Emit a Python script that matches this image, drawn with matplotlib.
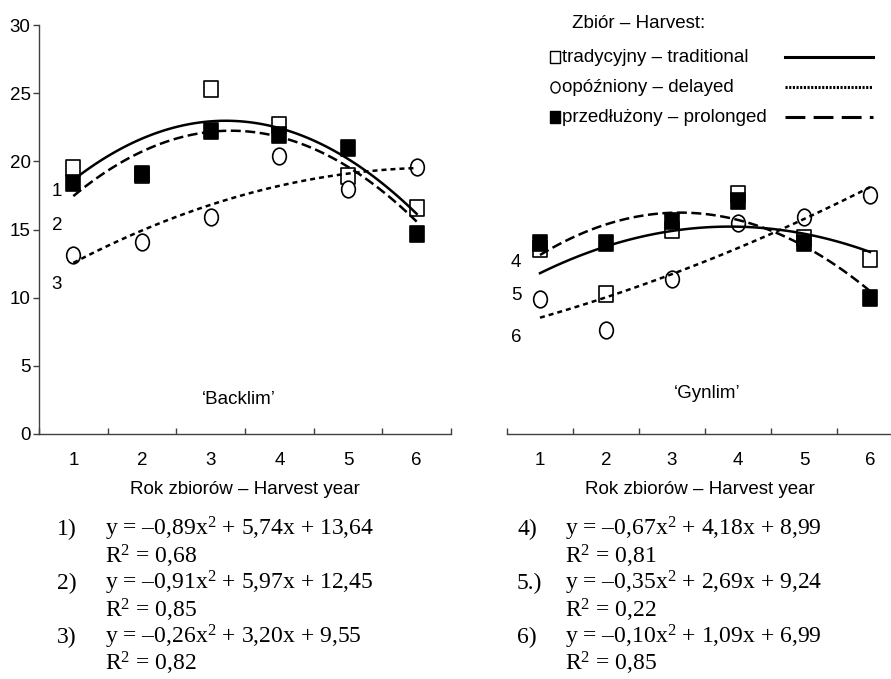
import numpy as np
import matplotlib
matplotlib.use("Agg")
import matplotlib.pyplot as plt
from matplotlib.lines import Line2D
from matplotlib.path import Path
from matplotlib.transforms import Affine2D

plt.rcParams['font.family'] = ['Liberation Sans', 'DejaVu Sans']
plt.rcParams['mathtext.fontset'] = 'custom'
plt.rcParams['mathtext.rm'] = 'Liberation Serif'
plt.rcParams['mathtext.it'] = 'Liberation Serif:italic'
plt.rcParams['mathtext.default'] = 'regular'

years = [1, 2, 3, 4, 5, 6]

# 'Backlim'
back_trad = [19.5, 19.0, 25.3, 22.7, 18.9, 16.6]
back_del = [13.1, 14.1, 15.9, 20.4, 18.0, 19.6]
back_prol = [18.4, 19.1, 22.2, 21.9, 21.0, 14.7]

# 'Gynlim'
gyn_trad = [13.6, 10.3, 15.0, 17.6, 14.4, 12.8]
gyn_del = [9.9, 7.6, 11.4, 15.5, 15.9, 17.5]
gyn_prol = [14.0, 14.0, 15.6, 17.1, 14.0, 10.0]

left_eqs = ["y = –0,89x$^2$ + 5,74x + 13,64", "y = –0,91x$^2$ + 5,97x + 12,45", "y = –0,26x$^2$ + 3,20x + 9,55"]
left_r2 = ["R$^2$ = 0,68", "R$^2$ = 0,85", "R$^2$ = 0,82"]
left_nums = ["1)", "2)", "3)"]
right_eqs = ["y = –0,67x$^2$ + 4,18x + 8,99", "y = –0,35x$^2$ + 2,69x + 9,24", "y = –0,10x$^2$ + 1,09x + 6,99"]
right_r2 = ["R$^2$ = 0,81", "R$^2$ = 0,22", "R$^2$ = 0,85"]
right_nums = ["4)", "5.)", "6)"]

W, H = 891, 679
FS = 13.5
fig = plt.figure(figsize=(W / 100, H / 100), dpi=100)

def fx(px):
    return px / W

def fy(py):
    return 1 - py / H

# slightly tall markers like in the original
ell = Path.unit_circle().transformed(Affine2D().scale(0.82, 1.0))
rect = Path([(-0.44, -0.5), (0.44, -0.5), (0.44, 0.5), (-0.44, 0.5), (-0.44, -0.5)],
            [Path.MOVETO, Path.LINETO, Path.LINETO, Path.LINETO, Path.CLOSEPOLY])

line_ls = {'trad': '-', 'del': (0, (2.0, 1.6)), 'prol': (0, (4.0, 1.8))}
AXC = '#404040'

def draw_panel(ax, trad, dele, prol):
    ax.plot(years, trad, ls='none', marker=rect, ms=11, mfc='white', mec='black', mew=1.2, zorder=3)
    ax.plot(years, dele, ls='none', marker=ell, ms=12, mfc='white', mec='black', mew=1.2, zorder=4)
    ax.plot(years, prol, ls='none', marker=rect, ms=11, mfc='black', mec='black', mew=1.2, zorder=5)
    xs = np.linspace(1, 6, 120)
    for data, key in [(trad, 'trad'), (dele, 'del'), (prol, 'prol')]:
        c = np.polyfit(years, data, 2)
        ax.plot(xs, np.polyval(c, xs), color='black', lw=1.8, ls=line_ls[key], zorder=6)
    ax.set_xlim(0.5, 6.5)
    ax.set_ylim(0, 30)
    ax.set_xticks(np.arange(0.5, 7, 1))
    ax.set_xticklabels([])
    ax.set_xticks(years, minor=True)
    ax.set_xticklabels([str(y) for y in years], minor=True, fontsize=FS)
    ax.tick_params(axis='x', which='major', direction='in', length=4, width=1, color=AXC)
    ax.tick_params(axis='x', which='minor', length=0, pad=13)
    ax.spines['top'].set_visible(False)
    ax.spines['right'].set_visible(False)
    for s in ax.spines.values():
        s.set_color(AXC)
        s.set_linewidth(1)
    ax.patch.set_alpha(0)

ax1 = fig.add_axes([fx(39), fy(434), fx(451 - 39), (434 - 25) / H])
draw_panel(ax1, back_trad, back_del, back_prol)
ax1.set_yticks(range(0, 31, 5))
ax1.tick_params(axis='y', direction='out', length=4, width=1, color=AXC, labelsize=FS, pad=2)

ax2 = fig.add_axes([fx(507), fy(434), fx(396), (434 - 25) / H])
draw_panel(ax2, gyn_trad, gyn_del, gyn_prol)
ax2.spines['left'].set_visible(False)
ax2.set_yticks([])

# curve numbers and cultivar names
for t, (px, py) in zip(["1", "2", "3"], [(57, 191), (57, 226), (57, 284)]):
    fig.text(fx(px), fy(py), t, fontsize=FS, ha='center', va='center')
for t, (px, py) in zip(["4", "5", "6"], [(516, 263), (516, 295), (516, 338)]):
    fig.text(fx(px), fy(py), t, fontsize=FS, ha='center', va='center')
fig.text(fx(239), fy(400), "‘Backlim’", fontsize=FS, ha='center', va='center')
fig.text(fx(707), fy(393), "‘Gynlim’", fontsize=FS, ha='center', va='center')

fig.text(fx(245), fy(490), "Rok zbiorów – Harvest year", fontsize=FS, ha='center', va='center')
fig.text(fx(700), fy(490), "Rok zbiorów – Harvest year", fontsize=FS, ha='center', va='center')

# legend
fig.text(fx(572), fy(23), "Zbiór – Harvest:", fontsize=FS, ha='left', va='center')
leg_rows = [("tradycyjny – traditional", rect, 'white', '-', 57),
            ("opóźniony – delayed", ell, 'white', (0, (0.7, 0.5)), 87),
            ("przedłużony – prolonged", rect, 'black', (0, (6.5, 2.7)), 117)]
for label, mk, fc, ls, py in leg_rows:
    fig.add_artist(Line2D([fx(555)], [fy(py)], marker=mk, ms=8,
                          mfc=fc, mec='black', mew=1, ls='none', transform=fig.transFigure))
    fig.text(fx(562), fy(py), label, fontsize=FS, ha='left', va='center')
    fig.add_artist(Line2D([fx(785), fx(873)], [fy(py), fy(py)], color='black',
                          lw=2.2, ls=ls, transform=fig.transFigure))

# equations
ys = [529, 556, 583, 610, 637, 663]
EFS = 17
for i in range(3):
    fig.text(fx(57), fy(ys[2 * i]), left_nums[i], fontsize=EFS, family='Liberation Serif', va='center')
    fig.text(fx(105), fy(ys[2 * i]), left_eqs[i], fontsize=EFS, family='Liberation Serif', va='center')
    fig.text(fx(105), fy(ys[2 * i + 1]), left_r2[i], fontsize=EFS, family='Liberation Serif', va='center')
    fig.text(fx(517), fy(ys[2 * i]), right_nums[i], fontsize=EFS, family='Liberation Serif', va='center')
    fig.text(fx(565), fy(ys[2 * i]), right_eqs[i], fontsize=EFS, family='Liberation Serif', va='center')
    fig.text(fx(565), fy(ys[2 * i + 1]), right_r2[i], fontsize=EFS, family='Liberation Serif', va='center')

fig.savefig("out.png", dpi=100)
